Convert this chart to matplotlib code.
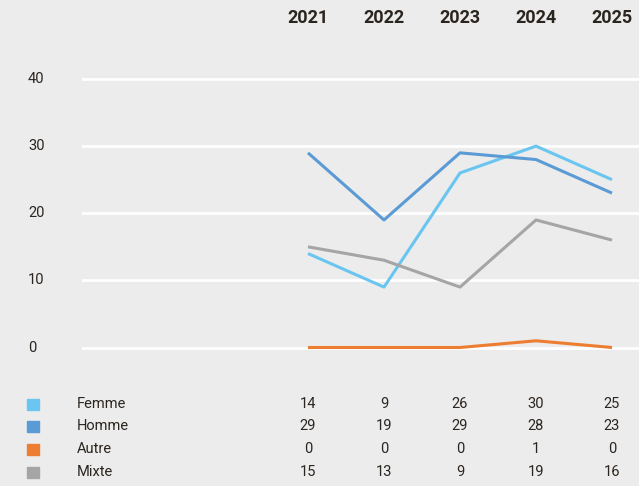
import matplotlib.pyplot as plt
from matplotlib.transforms import blended_transform_factory

years = ["2021", "2022", "2023", "2024", "2025"]
series = ["Femme", "Homme", "Autre", "Mixte"]
femme = [14, 9, 26, 30, 25]
homme = [29, 19, 29, 28, 23]
autre = [0, 0, 0, 1, 0]
mixte = [15, 13, 9, 19, 16]
values = [femme, homme, autre, mixte]
colors = ["#6ac5f0", "#5b9bd5", "#ed7d31", "#a5a5a5"]
y_ticks = [0, 10, 20, 30, 40]

BG = "#ececec"
TXT = "#2b2520"
W, H = 639, 486

plt.rcParams["font.family"] = ["Roboto", "DejaVu Sans"]

fig = plt.figure(figsize=(W / 100, H / 100), dpi=100, facecolor=BG)

# axes placed in pixel space: gridlines from x=82 to right edge, 0 at y=347, 40 at y=79
px_per_unit = (347.5 - 79) / 40
x0, x_step = 308, 76
ax_left, ax_right = 82, W
ax_top, ax_bottom = 40, 370
ax = fig.add_axes([ax_left / W, 1 - ax_bottom / H,
                   (ax_right - ax_left) / W, (ax_bottom - ax_top) / H])
ax.set_facecolor(BG)
ax.set_xlim((ax_left - x0) / x_step, (ax_right - x0) / x_step)
ax.set_ylim((347.5 - ax_bottom) / px_per_unit, (347.5 - ax_top) / px_per_unit)
for s in ax.spines.values():
    s.set_visible(False)
ax.set_xticks([])
ax.set_yticks([])

for t in y_ticks:
    ax.axhline(t, color="white", lw=2, zorder=1)

xs = list(range(len(years)))
for name, vals, c in zip(series, values, colors):
    ax.plot(xs, vals, color=c, lw=2.2, zorder=3, solid_capstyle="butt")

# y tick labels, left aligned near the figure edge
tr = blended_transform_factory(fig.transFigure, ax.transData)
for t in y_ticks:
    ax.text(28 / W, t, str(t), transform=tr, ha="left", va="center",
            fontsize=10.5, color=TXT)

# year header
for i, y in enumerate(years):
    fig.text((x0 + i * x_step) / W, 1 - 18 / H, y, ha="center", va="center",
             fontsize=13, fontweight="bold", color=TXT)

# table below
row_y = [404, 426, 449, 472]
for name, vals, c, ry in zip(series, values, colors, row_y):
    fig.patches.append(plt.Rectangle((27 / W, 1 - (ry + 6) / H), 12 / W, 11 / H,
                                     transform=fig.transFigure, color=c))
    fig.text(77 / W, 1 - ry / H, name, ha="left", va="center",
             fontsize=10.5, color=TXT)
    for i, v in enumerate(vals):
        fig.text((x0 + i * x_step) / W, 1 - ry / H, str(v), ha="center",
                 va="center", fontsize=10.5, color=TXT)

fig.savefig("out.png", dpi=100, facecolor=BG)
